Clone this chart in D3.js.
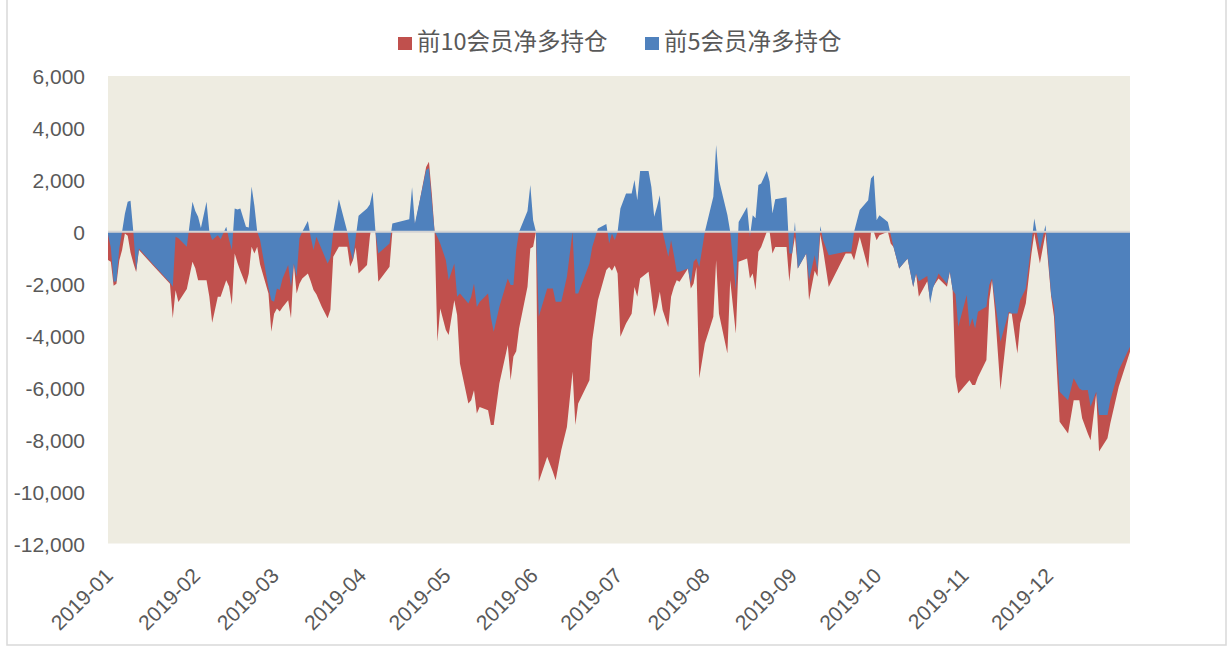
<!DOCTYPE html>
<html><head><meta charset="utf-8">
<script src="https://cdn.jsdelivr.net/npm/d3@7"></script>
<style>html,body{margin:0;padding:0;background:#fff;} svg{display:block}</style>
</head><body>
<svg id="chart" width="1230" height="646"></svg>
<script>
const year = 2019;
const dates = [
"01-02","01-03","01-04","01-05","01-06","01-07","01-08","01-09","01-10","01-11","01-12","01-13","01-18","01-24","01-25","01-26","01-27","01-30",
"02-01","02-02","02-03","02-04","02-06","02-07","02-08","02-10","02-11","02-13","02-14","02-15","02-16","02-17","02-18","02-20","02-21","02-22","02-23","02-24","02-25","02-28",
"03-01","03-02","03-03","03-04","03-05","03-07","03-08","03-09","03-10","03-11","03-12","03-14","03-15","03-16","03-17","03-19","03-21","03-22","03-23","03-25","03-28","03-29","03-30","03-31",
"04-01","04-04","04-05","04-06","04-07","04-08","04-12","04-13","04-19","04-20","04-21","04-25","04-26","04-27","04-28","04-29","04-30",
"05-02","05-03","05-05","05-06","05-07","05-10","05-11","05-12","05-13","05-14","05-17","05-18","05-19","05-21","05-24","05-25","05-26","05-27","05-28","05-31",
"06-01","06-02","06-03","06-04","06-07","06-09","06-10","06-12","06-14","06-16","06-17","06-18","06-22","06-23","06-25","06-28","06-29","06-30",
"07-01","07-02","07-03","07-05","07-07","07-08","07-09","07-10","07-13","07-14","07-15","07-16","07-17","07-18","07-20","07-21","07-22","07-23","07-24","07-27","07-28","07-29","07-30","07-31",
"08-02","08-05","08-06","08-07","08-10","08-11","08-13","08-14","08-17","08-18","08-19","08-20","08-21","08-22","08-24","08-25","08-26","08-27","08-31",
"09-01","09-02","09-03","09-04","09-07","09-08","09-10","09-11","09-12","09-13","09-15","09-21","09-23","09-24","09-26","09-29","09-30",
"10-01","10-02","10-03","10-06","10-07","10-08","10-10","10-13","10-15","10-16","10-17","10-20","10-21","10-22","10-24","10-27","10-28","10-29","10-30","10-31",
"11-03","11-04","11-05","11-06","11-07","11-10","11-11","11-12","11-13","11-15","11-18","11-19","11-21","11-22","11-24","11-26","11-27","11-29",
"12-01","12-03","12-04","12-06","12-09","12-11","12-13","12-14","12-16","12-17","12-19","12-20","12-23","12-24","12-27","12-31"
];
// 前10会员净多持仓
const top10 = [
-1080,-1150,-2080,-2000,-1100,-700,-60,-150,-800,-1200,-1550,-700,-1300,-2000,-3330,-2245,-2700,-2200,
-1150,-1400,-1860,-1860,-1860,-2500,-3500,-2500,-2500,-1860,-2100,-2810,-830,-1200,-1500,-2050,-1600,-570,-830,-570,-1250,-2370,
-3850,-3150,-2950,-3070,-2900,-2630,-3330,-1250,-2370,-2000,-1800,-1600,-1900,-2240,-2400,-2900,-3330,-3000,-960,-570,-570,-1340,-1090,-600,
-1600,-1280,-200,500,0,-1920,-1340,0,300,1000,200,2500,2700,1480,0,-4230,-2950,
-3780,-3970,-2630,-3200,-5070,-6610,-6480,-6100,-6990,-6740,-6870,-7440,-7440,-5840,-4360,-5710,-4800,-4600,-3720,-2110,
-640,-570,0,-9620,-8660,-9240,-9560,-8400,-7510,-5390,-7440,-6610,-5710,-4170,-2630,-1470,-1350,-1500,
-1300,-1600,-4040,-3530,-3150,-2120,-2500,-1800,-1540,-2370,-3270,-2890,-2310,-3010,-3660,-2500,-2120,-1860,-1920,-1410,-2180,-1990,-1350,-5640,
-4300,-3270,-1090,-3140,-4680,-1860,-3910,-1150,-1030,-1800,-1600,-2250,-770,-580,0,0,-830,-580,-580,
-1920,-830,-200,-1410,-830,-2630,-1500,-1730,-100,-700,-2120,-830,-830,-1090,-200,-1410,0,
0,-320,-130,0,-450,-580,-1410,-1030,-2120,-1600,-2500,-1900,-2630,-2120,-1800,-2110,-1530,-2240,-5580,-6220,
-5840,-5710,-5900,-5900,-5600,-4930,-2620,-1860,-3010,-6090,-3140,-3140,-4680,-3520,-2750,-830,-60,-1220,
-60,-2500,-3270,-7310,-7760,-6480,-6480,-7180,-7760,-8020,-6220,-8460,-7950,-7380,-5960,-4620
];
// 前5会员净多持仓
const top5 = [
-100,-600,-1920,-1900,-640,0,700,1160,1200,0,-1500,-640,-1250,-1950,-2110,-190,-250,-570,
1155,800,580,150,1155,0,-315,-130,-290,200,-300,-700,900,860,900,200,170,1750,1000,0,-300,-2150,
-2630,-2690,-2180,-2240,-1800,-1280,-2120,-1220,-1730,-250,0,415,-200,-700,-190,-700,-1220,-1000,0,1250,0,-700,-1090,-200,
620,900,1050,1540,0,-830,-450,320,480,1720,320,2380,2450,1220,0,-200,-450,
-1090,-1860,-1220,-2500,-2370,-2760,-2500,-1990,-2890,-2700,-2370,-3300,-3850,-2890,-1800,-2050,-2050,-700,0,800,
1800,450,0,-3270,-2180,-2180,-2690,-2690,-1730,0,-2370,-2370,-1220,-580,130,300,-450,-60,
-320,0,900,1480,1480,2000,1220,2340,2340,1730,580,970,1410,0,-960,-320,-900,-1540,-1540,-1410,-2000,-1150,-1030,-1350,
0,1350,3340,2000,650,0,-2250,380,960,-190,640,520,1800,1860,2340,1930,710,1250,1330,
-830,-830,380,-1410,-830,-1860,-900,-1500,220,-320,-900,-770,-770,0,840,1220,2050,
2180,450,640,380,-100,-580,-1410,-1030,-2120,-1600,-1900,-1700,-2760,-2180,-1600,-2000,-1530,-2240,-2400,-3650,
-2430,-3650,-3330,-3720,-3080,-2880,-2050,-1800,-2620,-4230,-3080,-3140,-3140,-2620,-2180,-450,510,-700,
260,-2430,-2880,-6160,-6480,-5640,-6030,-6100,-6090,-6730,-6160,-7050,-7050,-6480,-5320,-4420
];
const seriesNames = ["前10会员净多持仓", "前5会员净多持仓"];
const yTicks = [-12000,-10000,-8000,-6000,-4000,-2000,0,2000,4000,6000];
const monthLabels = ["2019-01","2019-02","2019-03","2019-04","2019-05","2019-06","2019-07","2019-08","2019-09","2019-10","2019-11","2019-12"];

const colors = ["#C0504D", "#4F81BD"];
const textColor = "#595959";
const parse = d3.timeParse("%Y-%m-%d");
const data = dates.map((s, i) => ({date: parse(year + "-" + s), a: top10[i], b: top5[i]}));

const svg = d3.select("#chart");
const plot = {left: 108, right: 1130, top: 76, bottom: 543.5};

// chart frame
svg.append("rect").attr("x", 7).attr("y", -2).attr("width", 1219).attr("height", 647)
  .attr("fill", "#fff").attr("stroke", "#D9D9D9").attr("stroke-width", 1.5);

const x = d3.scaleTime()
  .domain([data[0].date, data[data.length - 1].date])
  .range([plot.left, plot.right]);
const y = d3.scaleLinear().domain([-12000, 6000]).range([plot.bottom, plot.top]);

svg.append("rect").attr("x", plot.left).attr("y", plot.top)
  .attr("width", plot.right - plot.left).attr("height", plot.bottom - plot.top)
  .attr("fill", "#EEECE1");

const areaA = d3.area().x(d => x(d.date)).y0(y(0)).y1(d => y(d.a));
const areaB = d3.area().x(d => x(d.date)).y0(y(0)).y1(d => y(d.b));
svg.append("path").datum(data).attr("d", areaA).attr("fill", colors[0]);
svg.append("path").datum(data).attr("d", areaB).attr("fill", colors[1]);

// zero (category axis) line
svg.append("line").attr("x1", plot.left).attr("x2", plot.right)
  .attr("y1", y(0)).attr("y2", y(0)).attr("stroke", "#D4D4D4").attr("stroke-width", 2);

// y axis
const fmt = d3.formatLocale({decimal: ".", thousands: ",", grouping: [3], currency: ["", ""], minus: "-"}).format(",");
const yAxis = d3.axisLeft(y).tickValues(yTicks).tickFormat(fmt).tickSize(0).tickPadding(0);
const gy = svg.append("g").attr("transform", "translate(85,0)").call(yAxis);
gy.select(".domain").remove();
gy.selectAll("text").attr("fill", textColor).attr("font-family", "'Liberation Sans', Arial, sans-serif")
  .attr("font-size", 21).attr("dy", "0.36em");

// x axis labels (month starts)
const monthDates = monthLabels.map(m => d3.timeParse("%Y-%m")(m));
const xAxis = d3.axisBottom(x).tickValues(monthDates).tickFormat(d3.timeFormat("%Y-%m")).tickSize(0);
const gx = svg.append("g").attr("transform", "translate(0,0)").call(xAxis);
gx.select(".domain").remove();
gx.selectAll(".tick").attr("transform", d => `translate(${x(d) + 9},577)`);
gx.selectAll("text").attr("fill", textColor).attr("font-family", "'Liberation Sans', Arial, sans-serif")
  .attr("font-size", 21).attr("text-anchor", "end").attr("y", 0).attr("dy", 0)
  .attr("transform", "rotate(-45)");

// legend
const legend = svg.append("g");
const legX = [398, 645];
seriesNames.forEach((n, i) => {
  legend.append("rect").attr("x", legX[i]).attr("y", 37).attr("width", 14).attr("height", 13).attr("fill", colors[i]);
  legend.append("text").attr("x", legX[i] + 19).attr("y", 50).text(n)
    .attr("fill", textColor).attr("font-family", "'Noto Sans CJK SC', sans-serif").attr("font-size", 23.5);
});
</script>
</body></html>
